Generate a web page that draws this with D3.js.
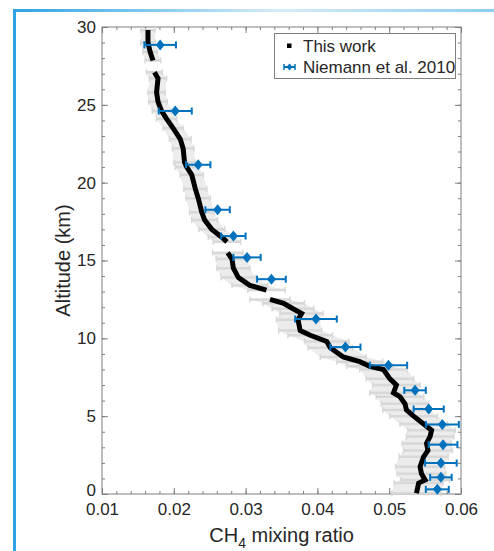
<!DOCTYPE html>
<meta charset="utf-8">
<head>
<style>
body { margin: 0; background: #fff; }
text { font-family: "Liberation Sans", Arial, sans-serif; fill: #262626; }
.axis path { display: none; }
.axis line { stroke: #7f7f7f; }
</style>
</head>
<body>
<script src="https://cdnjs.cloudflare.com/ajax/libs/d3/7.8.5/d3.min.js"></script>
<script>
//---------------------------DATA-------------------------------//
// this work: altitude (km), CH4 mixing ratio, error (null = gap in the profile)
var workAlt = [29.8, 29.0, 28.4, 27.85, null, 27.1, 26.7, 25.8, 25.2, 24.6, 24.1, 23.5, 22.8, 22.2,
    21.3, 21.0, 20.5, 19.6, 19.0, 18.1, 17.6, 17.0, 16.5, 16.2, null, 15.5, 15.1, 14.5, 13.9, 13.4,
    13.1, null, 12.5, 12.25, 11.9, 11.6, 11.2, 10.5, 10.2, 9.8, 9.4, 8.8, 8.5, 8.2, 8.0, 7.4, 7.0,
    6.5, 6.25, 5.8, 5.4, 5.0, 4.5, 4.1, 3.7, 3.25, 2.8, 2.4, 1.75, 1.3, 0.9, 0.7, 0.05];
var workCh4 = [0.0164, 0.0164, 0.0167, 0.0171, null, 0.0173, 0.0178, 0.0176, 0.0178, 0.0183, 0.0190,
    0.0199, 0.0209, 0.0213, 0.0215, 0.0218, 0.0225, 0.0230, 0.0234, 0.0239, 0.0243, 0.0253, 0.0267,
    0.0274, null, 0.0275, 0.0281, 0.0283, 0.0290, 0.0306, 0.0329, null, 0.0334, 0.0353, 0.0366,
    0.0378, 0.0373, 0.0376, 0.0390, 0.0413, 0.0418, 0.0436, 0.0459, 0.0473, 0.0492, 0.0501, 0.0510,
    0.0506, 0.0515, 0.0522, 0.0524, 0.0534, 0.0548, 0.0559, 0.0557, 0.0552, 0.0554, 0.0548, 0.0543,
    0.0545, 0.0550, 0.0541, 0.0538];
var workErr = [0.0010, 0.0010, 0.0010, 0.0011, null, 0.0011, 0.0012, 0.0012, 0.0013, 0.0013, 0.0014,
    0.0014, 0.0015, 0.0015, 0.0015, 0.0016, 0.0016, 0.0016, 0.0017, 0.0017, 0.0018, 0.0018, 0.0019,
    0.0019, null, 0.0021, 0.0022, 0.0023, 0.0024, 0.0025, 0.0026, null, 0.0028, 0.0029, 0.0029,
    0.0030, 0.0030, 0.0030, 0.0031, 0.0031, 0.0031, 0.0032, 0.0032, 0.0032, 0.0033, 0.0033, 0.0033,
    0.0033, 0.0033, 0.0033, 0.0033, 0.0033, 0.0033, 0.0033, 0.0033, 0.0034, 0.0034, 0.0034, 0.0034,
    0.0034, 0.0034, 0.0034, 0.0034];

// Niemann et al. 2010
var niemannAlt = [28.85, 24.6, 21.15, 18.26, 16.57, 15.2, 13.8, 11.24, 9.44, 8.27, 6.66, 5.46, 4.47, 3.17, 1.99, 1.07, 0.3];
var niemannCh4 = [0.0181, 0.0202, 0.0234, 0.0261, 0.0283, 0.0302, 0.0336, 0.0398, 0.0439, 0.0499, 0.0536, 0.0555, 0.0574, 0.0575, 0.0572, 0.0572, 0.0567];
var niemannErr = [0.0022, 0.0023, 0.0017, 0.0017, 0.0017, 0.0019, 0.0020, 0.0029, 0.0021, 0.0026, 0.0015, 0.0021, 0.0023, 0.0020, 0.0022, 0.0015, 0.0016];

var xTicks = [0.01, 0.02, 0.03, 0.04, 0.05, 0.06];
var yTicks = [0, 5, 10, 15, 20, 25, 30];
var legendLabels = ["This work", "Niemann et al. 2010"];

//---------------------------SVG--------------------------------//
var width = 494, height = 551;
var margin = {top: 27, right: 33, bottom: 57, left: 102};
var blue = "#0072BD";

var svg = d3.select("body").append("svg")
    .attr("width", width)
    .attr("height", height);

// outer frame
var grad = svg.append("defs").append("linearGradient").attr("id", "frameGrad");
grad.append("stop").attr("offset", "0%").attr("stop-color", "#2ea3e3");
grad.append("stop").attr("offset", "55%").attr("stop-color", "#d4ecf9");
grad.append("stop").attr("offset", "100%").attr("stop-color", "#8fcdf0");
svg.append("rect").attr("x", 13).attr("y", 9).attr("width", 481).attr("height", 3).attr("fill", "url(#frameGrad)");
svg.append("rect").attr("x", 13).attr("y", 9).attr("width", 3).attr("height", 542).attr("fill", "#2ea3e3");

//--------------------------SCALES------------------------------//
var x = d3.scaleLinear().domain([0.01, 0.06]).range([margin.left, width - margin.right]);
var y = d3.scaleLinear().domain([0, 30]).range([height - margin.bottom, margin.top]);

//---------------------------AXES-------------------------------//
var xMinor = d3.range(0.01, 0.0601, 0.002);
var yMinor = d3.range(0, 30.01, 1);

function addAxis(axis, tr) {
  return svg.append("g").attr("class", "axis").attr("transform", tr).call(axis);
}
// minor ticks on all sides
addAxis(d3.axisBottom(x).tickValues(xMinor).tickSize(-3).tickFormat(""), "translate(0," + y(0) + ")");
addAxis(d3.axisTop(x).tickValues(xMinor).tickSize(-3).tickFormat(""), "translate(0," + y(30) + ")");
addAxis(d3.axisLeft(y).tickValues(yMinor).tickSize(-3).tickFormat(""), "translate(" + x(0.01) + ",0)");
addAxis(d3.axisRight(y).tickValues(yMinor).tickSize(-3).tickFormat(""), "translate(" + x(0.06) + ",0)");
// major ticks
addAxis(d3.axisBottom(x).tickValues(xTicks).tickSize(-6).tickPadding(9).tickFormat(d3.format(".2f")),
    "translate(0," + y(0) + ")");
addAxis(d3.axisTop(x).tickValues(xTicks).tickSize(-6).tickFormat(""), "translate(0," + y(30) + ")");
addAxis(d3.axisLeft(y).tickValues(yTicks).tickSize(-6).tickPadding(6).tickFormat(d3.format("d")),
    "translate(" + x(0.01) + ",0)");
addAxis(d3.axisRight(y).tickValues(yTicks).tickSize(-6).tickFormat(""), "translate(" + x(0.06) + ",0)");
svg.selectAll(".axis text").style("font-size", "17px").attr("fill", "#262626");
// lift the "0" altitude label a little so it does not run into "0.01"
svg.selectAll(".axis text").filter(function(d) { return d === 0; }).attr("dy", "0.1em");

svg.append("rect")
    .attr("x", x(0.01)).attr("y", y(30))
    .attr("width", x(0.06) - x(0.01)).attr("height", y(0) - y(30))
    .attr("fill", "none").attr("stroke", "#7f7f7f").attr("stroke-width", 1);

//---------------------------MARKS------------------------------//
var work = workAlt.map(function(a, i) {
  return {alt: a, ch4: workCh4[i], err: workErr[i]};
});
var workPts = work.filter(function(d) { return d.ch4 != null; });

// grey uncertainty band + error bars
var band = d3.area()
    .defined(function(d) { return d.ch4 != null; })
    .y(function(d) { return y(d.alt); })
    .x0(function(d) { return x(d.ch4 - d.err); })
    .x1(function(d) { return x(d.ch4 + d.err); });
svg.append("path").datum(work).attr("d", band).attr("fill", "#ececec");

var ge = svg.append("g").attr("stroke", "#d8d8d8");
ge.selectAll("line.h").data(workPts).enter().append("line")
    .attr("stroke-width", 2.5)
    .attr("x1", function(d) { return x(d.ch4 - d.err); })
    .attr("x2", function(d) { return x(d.ch4 + d.err); })
    .attr("y1", function(d) { return y(d.alt); })
    .attr("y2", function(d) { return y(d.alt); });
[-1, 1].forEach(function(s) {
  ge.selectAll("line.c" + s).data(workPts).enter().append("line")
      .attr("stroke-width", 1.5)
      .attr("x1", function(d) { return x(d.ch4 + s * d.err); })
      .attr("x2", function(d) { return x(d.ch4 + s * d.err); })
      .attr("y1", function(d) { return y(d.alt) - 3; })
      .attr("y2", function(d) { return y(d.alt) + 3; });
});

// black profile
var line = d3.line()
    .defined(function(d) { return d.ch4 != null; })
    .x(function(d) { return x(d.ch4); })
    .y(function(d) { return y(d.alt); });
svg.append("path")
    .datum(work)
    .attr("d", line)
    .attr("fill", "none")
    .attr("stroke", "#000")
    .attr("stroke-width", 5);

// Niemann points with error bars
var niem = niemannAlt.map(function(a, i) {
  return {alt: a, ch4: niemannCh4[i], err: niemannErr[i]};
});
var ng = svg.selectAll("g.niem").data(niem).enter().append("g")
    .attr("transform", function(d) { return "translate(0," + y(d.alt) + ")"; });
ng.append("line")
    .attr("x1", function(d) { return x(d.ch4 - d.err); })
    .attr("x2", function(d) { return x(d.ch4 + d.err); })
    .attr("stroke", blue).attr("stroke-width", 2);
[-1, 1].forEach(function(s) {
  ng.append("line")
      .attr("x1", function(d) { return x(d.ch4 + s * d.err); })
      .attr("x2", function(d) { return x(d.ch4 + s * d.err); })
      .attr("y1", -3.5).attr("y2", 3.5)
      .attr("stroke", blue).attr("stroke-width", 2);
});
ng.append("path")
    .attr("d", function(d) { var cx = x(d.ch4); return "M" + cx + ",-5.5L" + (cx + 4.5) + ",0L" + cx + ",5.5L" + (cx - 4.5) + ",0Z"; })
    .attr("fill", blue);

//--------------------------LABELS------------------------------//
svg.append("text")
    .attr("transform", "translate(70," + (y(15)) + ") rotate(-90)")
    .attr("text-anchor", "middle")
    .style("font-size", "20px")
    .text("Altitude (km)");

var xl = svg.append("text")
    .attr("x", (x(0.01) + x(0.06)) / 2)
    .attr("y", 542)
    .attr("text-anchor", "middle")
    .style("font-size", "20px");
xl.append("tspan").text("CH");
xl.append("tspan").attr("dy", 6).style("font-size", "14px").text("4");
xl.append("tspan").attr("dy", -6).text(" mixing ratio");

//--------------------------LEGEND------------------------------//
var lg = svg.append("g");
lg.append("rect")
    .attr("x", 274.5).attr("y", 33.5).attr("width", 181).attr("height", 45)
    .attr("fill", "#fff").attr("stroke", "#7f7f7f");
lg.append("rect").attr("x", 287).attr("y", 43.5).attr("width", 4.5).attr("height", 4.5).attr("fill", "#000");
lg.append("line").attr("x1", 284).attr("x2", 295).attr("y1", 67).attr("y2", 67).attr("stroke", blue).attr("stroke-width", 2);
lg.append("line").attr("x1", 284).attr("x2", 284).attr("y1", 64).attr("y2", 70).attr("stroke", blue).attr("stroke-width", 1.5);
lg.append("line").attr("x1", 295).attr("x2", 295).attr("y1", 64).attr("y2", 70).attr("stroke", blue).attr("stroke-width", 1.5);
lg.append("path").attr("d", "M289.5,63.5L292.5,67L289.5,70.5L286.5,67Z").attr("fill", blue);
lg.selectAll("text.lt").data(legendLabels).enter().append("text")
    .attr("x", 303)
    .attr("y", function(d, i) { return 52 + i * 21; })
    .style("font-size", "17px")
    .text(function(d) { return d; });
</script>
</body>
</html>
